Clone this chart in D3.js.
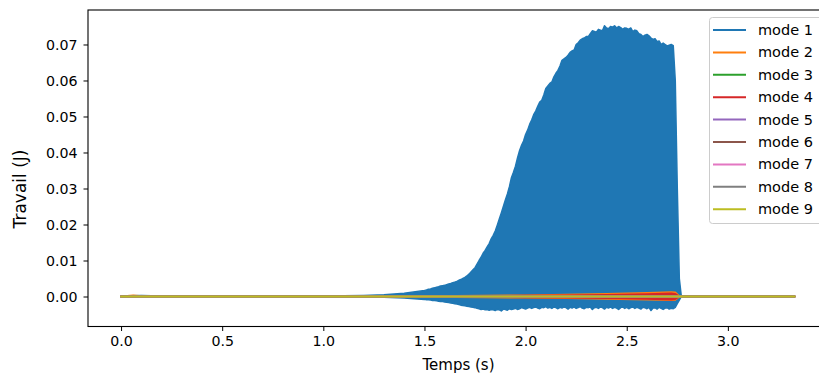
<!DOCTYPE html>
<html><head><meta charset="utf-8">
<script src="https://cdn.jsdelivr.net/npm/d3@7"></script>
<style>html,body{margin:0;padding:0;background:#fff;}svg{display:block;font-family:"DejaVu Sans",sans-serif;}</style>
</head><body>
<svg id="chart" width="819" height="374"></svg>
<script>
// ---------- data ----------
const xTicks = [0.0, 0.5, 1.0, 1.5, 2.0, 2.5, 3.0];
const yTicks = [0.00, 0.01, 0.02, 0.03, 0.04, 0.05, 0.06, 0.07];
const seriesNames = ["mode 1","mode 2","mode 3","mode 4","mode 5","mode 6","mode 7","mode 8","mode 9"];
const colors = ["#1f77b4","#ff7f0e","#2ca02c","#d62728","#9467bd","#8c564b","#e377c2","#7f7f7f","#bcbd22"];

// mode 1 : oscillation peaks (upper) and troughs (lower)
const m1EarlyT     = [0.00, 0.05, 0.10, 0.15, 0.20, 0.30, 0.40, 0.50, 0.60, 0.70, 0.80, 0.90, 1.00, 1.10, 1.20, 1.30, 1.40];
const m1EarlyUpper = [0.0000, 0.0002, 0.0003, 0.0002, 0.0001, 0.0001, 0.0001, 0.0001, 0.0001, 0.0001, 0.0001, 0.0002, 0.0002, 0.0002, 0.0003, 0.0005, 0.0009];
const m1EarlyLower = [0.0000, -0.0002, -0.0002, -0.0001, -0.0001, -0.0001, 0.0000, 0.0000, 0.0000, 0.0000, 0.0000, -0.0001, -0.0001, -0.0001, -0.0001, -0.0002, -0.0004];
// dense part, samples every 0.01 s from 1.50 s to 2.77 s
const m1DenseStart = 1.50, m1DenseStep = 0.01;
const m1Upper = [
 .0017,.0018,.0020,.0021,.0023,.0024,.0026,.0027,.0029,.0030,
 .0031,.0033,.0035,.0036,.0038,.0040,.0042,.0045,.0047,.0050,
 .0053,.0057,.0062,.0068,.0074,.0080,.0090,.0100,.0109,.0120,
 .0128,.0138,.0147,.0160,.0170,.0182,.0198,.0215,.0232,.0250,
 .0268,.0285,.0305,.0330,.0345,.0362,.0385,.0405,.0420,.0432,
 .0450,.0462,.0478,.0490,.0505,.0515,.0528,.0540,.0545,.0560,
 .0578,.0585,.0592,.0596,.0610,.0620,.0628,.0640,.0656,.0660,
 .0664,.0670,.0678,.0682,.0685,.0700,.0705,.0712,.0716,.0718,
 .0722,.0722,.0730,.0738,.0736,.0734,.0742,.0740,.0738,.0752,
 .0746,.0744,.0750,.0748,.0752,.0746,.0750,.0747,.0742,.0746,
 .0745,.0742,.0746,.0736,.0740,.0738,.0730,.0728,.0722,.0726,
 .0728,.0724,.0718,.0714,.0716,.0708,.0710,.0700,.0704,.0700,
 .0696,.0698,.0700,.0697,.0600,.0300,.0050,.0000];
const m1Lower = [
 -.0008,-.0009,-.0009,-.0010,-.0011,-.0011,-.0012,-.0013,-.0014,-.0014,
 -.0015,-.0016,-.0017,-.0018,-.0019,-.0020,-.0021,-.0022,-.0024,-.0025,
 -.0026,-.0027,-.0028,-.0029,-.0030,-.0031,-.0033,-.0034,-.0036,-.0035,
 -.0037,-.0036,-.0038,-.0036,-.0037,-.0039,-.0036,-.0037,-.0040,-.0035,
 -.0036,-.0038,-.0034,-.0036,-.0035,-.0033,-.0036,-.0034,-.0031,-.0033,
 -.0035,-.0032,-.0030,-.0033,-.0031,-.0029,-.0032,-.0034,-.0030,-.0031,
 -.0028,-.0032,-.0030,-.0033,-.0029,-.0031,-.0034,-.0030,-.0032,-.0029,
 -.0031,-.0035,-.0030,-.0032,-.0029,-.0033,-.0031,-.0028,-.0032,-.0034,
 -.0030,-.0031,-.0029,-.0036,-.0031,-.0030,-.0033,-.0029,-.0031,-.0035,
 -.0030,-.0032,-.0029,-.0033,-.0030,-.0032,-.0036,-.0031,-.0029,-.0033,
 -.0030,-.0034,-.0031,-.0029,-.0033,-.0030,-.0032,-.0035,-.0030,-.0031,
 -.0034,-.0030,-.0039,-.0032,-.0031,-.0035,-.0030,-.0033,-.0036,-.0032,
 -.0031,-.0035,-.0033,-.0034,-.0030,-.0020,-.0010,.0000];
const m1LateT = [3.33];
const m1LateUpper = [0.0000];
const m1LateLower = [0.0000];

// modes 2..9 : envelopes of their small oscillations
const smallT      = [0.00, 0.06, 0.12, 0.50, 1.00, 1.50, 1.80, 2.00, 2.20, 2.40, 2.60, 2.72, 2.74, 2.76, 3.33];
const m2Upper     = [0, .0003, 0, 0, .00005, .0001, .0002, .0003, .0005, .0007, .0010, .0012, .0011, 0, 0];
const m2Lower     = [0, 0, 0, 0, -.00005, -.0001, -.0002, -.0003, -.0004, -.0006, -.0008, -.0010, -.0009, 0, 0];
const m3Upper     = [0, 0, 0, 0, 0, .00005, .0001, .0001, .0001, .0001, .0001, .0001, .0001, 0, 0];
const m3Lower     = [0, 0, 0, 0, 0, -.00005, -.0001, -.0001, -.0001, -.0001, -.0001, -.0001, -.0001, 0, 0];
const m4Upper     = [0, 0, 0, 0, 0, .00005, .0001, .0002, .0003, .0004, .0006, .0008, .0007, 0, 0];
const m4Lower     = [0, 0, 0, 0, 0, -.00005, -.0001, -.0002, -.0003, -.0004, -.0006, -.0008, -.0007, 0, 0];
const m5Upper     = [0, 0, 0, 0, 0, 0, 0, .00005, .00005, .00005, .00005, .00005, .00005, 0, 0];
const m5Lower     = [0, 0, 0, 0, 0, 0, 0, -.00005, -.00005, -.00005, -.00005, -.00005, -.00005, 0, 0];
const m6Upper     = [0, 0, 0, 0, 0, 0, 0, 0, 0, 0, 0, 0, 0, 0, 0];
const m6Lower     = [0, 0, 0, 0, 0, 0, 0, 0, 0, 0, 0, 0, 0, 0, 0];
const m7Upper     = [0, 0, 0, 0, 0, 0, 0, 0, 0, 0, 0, 0, 0, 0, 0];
const m7Lower     = [0, 0, 0, 0, 0, 0, 0, 0, 0, 0, 0, 0, 0, 0, 0];
const m8Upper     = [0, 0, 0, 0, 0, 0, 0, 0, 0, 0, 0, 0, 0, 0, 0];
const m8Lower     = [0, 0, 0, 0, 0, 0, 0, 0, 0, 0, 0, 0, 0, 0, 0];
const m9Upper     = [0, 0, 0, 0, 0, 0, 0, 0, 0, 0, 0, 0, 0, 0, 0];
const m9Lower     = [0, 0, 0, 0, 0, 0, 0, 0, 0, 0, 0, 0, 0, 0, 0];

// ---------- build series ----------
const m1Rows = [];
m1EarlyT.forEach((t,i)=>m1Rows.push({t, hi:m1EarlyUpper[i], lo:m1EarlyLower[i]}));
m1Upper.forEach((v,i)=>m1Rows.push({t: m1DenseStart + i*m1DenseStep, hi:v, lo:m1Lower[i]}));
m1LateT.forEach((t,i)=>m1Rows.push({t, hi:m1LateUpper[i], lo:m1LateLower[i]}));
const smallSets = [[m2Upper,m2Lower],[m3Upper,m3Lower],[m4Upper,m4Lower],[m5Upper,m5Lower],[m6Upper,m6Lower],[m7Upper,m7Lower],[m8Upper,m8Lower],[m9Upper,m9Lower]];
const series = [m1Rows].concat(smallSets.map(([u,l])=>smallT.map((t,i)=>({t, hi:u[i], lo:l[i]}))));

// ---------- layout ----------
const svg = d3.select("#chart");
const L = 88, T = 10, B = 326.5, R = 829;
const x = d3.scaleLinear().domain([-0.1634, 3.5]).range([L, R]);
const y = d3.scaleLinear().domain([-0.008333, 0.079583]).range([B, T]);

const plot = svg.append("g");
const area = d3.area().x(d=>x(d.t)).y0(d=>y(d.lo)).y1(d=>y(d.hi));
series.forEach((rows,i)=>{
  plot.append("path").attr("d", area(rows))
    .attr("fill", colors[i]).attr("stroke", colors[i])
    .attr("stroke-width", i === 0 ? 1.5 : 2).attr("stroke-linejoin","round");
});

// axes
const xAxis = d3.axisBottom(x).tickValues(xTicks).tickFormat(d3.format(".1f")).tickSize(4.5).tickPadding(5);
const yAxis = d3.axisLeft(y).tickValues(yTicks).tickFormat(d3.format(".2f")).tickSize(4.5).tickPadding(6);
const gx = svg.append("g").attr("transform", `translate(0,${B})`).call(xAxis);
const gy = svg.append("g").attr("transform", `translate(${L},0)`).call(yAxis);
[gx,gy].forEach(g=>{
  g.select(".domain").remove();
  g.selectAll(".tick line").attr("stroke","#000").attr("stroke-width",1);
  g.selectAll(".tick text").attr("fill","#000").style("font-size","14.2px").style("font-family","DejaVu Sans");
});
// frame
svg.append("rect").attr("x",L).attr("y",T).attr("width",R-L).attr("height",B-T)
  .attr("fill","none").attr("stroke","#000").attr("stroke-width",1.1);

// labels
svg.append("text").attr("x",(L+R)/2).attr("y",370).attr("text-anchor","middle")
  .style("font-size","15px").text("Temps (s)");
svg.append("text").attr("transform",`translate(26,189) rotate(-90)`).attr("text-anchor","middle")
  .style("font-size","17px").text("Travail (J)");

// legend
const lg = svg.append("g");
lg.append("rect").attr("x",709.5).attr("y",17.5).attr("width",140).attr("height",206).attr("rx",3)
  .attr("fill","#fff").attr("fill-opacity",0.8).attr("stroke","#ccc").attr("stroke-width",1);
seriesNames.forEach((name,i)=>{
  const yy = 30 + i*22.4;
  lg.append("line").attr("x1",713).attr("x2",746).attr("y1",yy).attr("y2",yy)
    .attr("stroke",colors[i]).attr("stroke-width",2);
  lg.append("text").attr("x",758).attr("y",yy+5).style("font-size","14.5px").text(name);
});
</script>
</body></html>
